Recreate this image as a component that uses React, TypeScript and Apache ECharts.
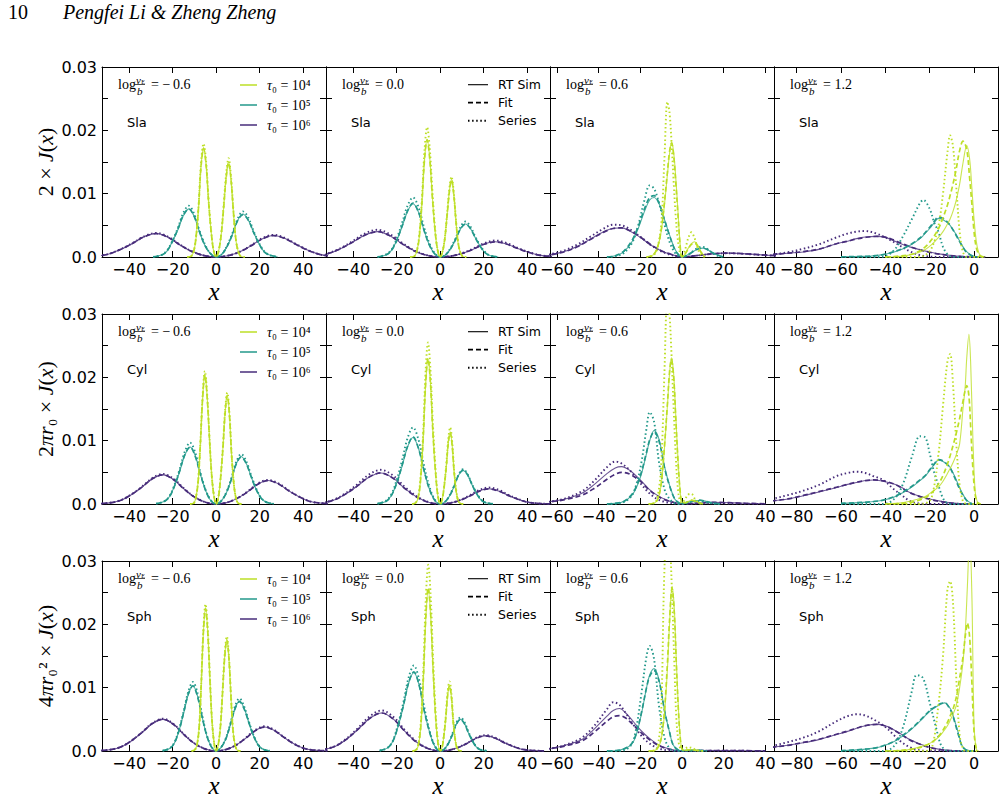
import React, { useEffect, useRef } from 'react';
import * as echarts from 'echarts';

// All J(x) values below are in units of 1e-4.
const Y_UNIT = 1e-4;

// ---------- Slab ----------
const SLA_M06_T4_X = [-13.3, -11.6, -10.4, -9.3, -8.1, -7, -5.8, -4.6, -3.5, -2.3, -1.2, 0, 1.1, 2.3, 3.4, 4.6, 5.7, 6.8, 8, 9.1, 10.3, 11.4, 13.1];
const SLA_M06_T4_SIM = [0, 1, 8, 29, 78, 142, 173, 145, 88, 40, 10, 0, 9, 35, 77, 126, 150, 123, 68, 26, 7, 1, 0];
const SLA_M06_T4_FIT = [0, 1, 8, 30, 79, 141, 171, 144, 88, 40, 10, 0, 9, 35, 76, 125, 149, 123, 68, 26, 7, 1, 0];
const SLA_M06_T4_SER = [0, 1, 8, 30, 81, 147, 179, 150, 91, 41, 11, 0, 9, 36, 80, 131, 156, 128, 70, 27, 7, 1, 0];
const SLA_M06_T5_X = [-29, -25.2, -22.7, -20.2, -17.6, -15.1, -12.6, -10.1, -7.6, -5, -2.5, 0, 2.5, 4.9, 7.4, 9.8, 12.3, 14.8, 17.2, 19.7, 22.1, 24.6, 28.3];
const SLA_M06_T5_SIM = [0, 3, 9, 24, 43, 65, 76, 64, 39, 17, 5, 0, 4, 16, 35, 57, 68, 58, 39, 21, 8, 3, 0];
const SLA_M06_T5_FIT = [0, 3, 9, 24, 44, 66, 76, 64, 39, 17, 5, 0, 4, 16, 35, 57, 67, 58, 39, 21, 8, 3, 0];
const SLA_M06_T5_SER = [0, 3, 10, 25, 46, 70, 81, 68, 41, 19, 5, 0, 4, 17, 37, 60, 72, 62, 41, 22, 9, 3, 0];
const SLA_M06_T6_X = [-63.5, -55.2, -49.7, -44.2, -38.6, -33.1, -27.6, -22.1, -16.6, -11, -5.5, 0, 5.3, 10.6, 15.8, 21.1, 26.4, 31.7, 37, 42.2, 47.5, 52.8, 60.7];
const SLA_M06_T6_SIM = [0, 1.5, 4.4, 11.5, 21, 32, 37, 31, 19, 8.5, 2.2, 0, 2, 7.8, 17.3, 28.6, 34, 29.2, 19.4, 10.5, 4.1, 1.4, 0];
const SLA_M06_T6_FIT = [0, 1.5, 4.5, 11.6, 21.2, 32, 36.8, 31, 19, 8.5, 2.2, 0, 2, 7.8, 17.2, 28.4, 33.8, 29, 19.3, 10.5, 4.1, 1.4, 0];
const SLA_M06_T6_SER = [0, 1.5, 4.6, 11.8, 21.7, 32.7, 38, 32, 19.4, 8.7, 2.3, 0, 2.1, 8, 17.9, 29.4, 35, 30, 20, 10.9, 4.2, 1.4, 0];

const SLA_P00_T4_X = [-13.8, -12, -10.8, -9.6, -8.4, -7.2, -6, -4.8, -3.6, -2.4, -1.2, 0, 1, 2.1, 3.1, 4.2, 5.2, 6.2, 7.3, 8.3, 9.4, 10.4, 12];
const SLA_P00_T4_SIM = [0, 1, 8, 32, 84, 153, 186, 156, 95, 43, 11, 0, 7, 28, 63, 103, 123, 101, 55, 21, 6, 1, 0];
const SLA_P00_T4_FIT = [0, 1, 8, 32, 85, 154, 185, 155, 95, 43, 11, 0, 7, 28, 62, 102, 122, 100, 55, 21, 6, 1, 0];
const SLA_P00_T4_SER = [0, 1, 9, 35, 92, 168, 205, 172, 105, 47, 12, 0, 8, 29, 65, 107, 127, 104, 57, 22, 6, 1, 0];
const SLA_P00_T5_X = [-28.8, -25, -22.5, -20, -17.5, -15, -12.5, -10, -7.5, -5, -2.5, 0, 2.3, 4.6, 7, 9.3, 11.6, 13.9, 16.2, 18.6, 20.9, 23.2, 26.7];
const SLA_P00_T5_SIM = [0, 3, 10, 26, 48, 72, 84, 71, 43, 19, 5, 0, 3, 12, 27, 44, 52, 45, 30, 16, 6, 2, 0];
const SLA_P00_T5_FIT = [0, 3, 10, 26, 49, 73, 85, 71, 43, 19, 5, 0, 3, 12, 27, 44, 52, 45, 30, 16, 6, 2, 0];
const SLA_P00_T5_SER = [0, 4, 11, 29, 54, 81, 94, 79, 48, 22, 6, 0, 3, 13, 29, 47, 56, 48, 32, 17, 7, 2, 0];
const SLA_P00_T6_X = [-66.5, -57.8, -52, -46.2, -40.5, -34.7, -28.9, -23.1, -17.3, -11.6, -5.8, 0, 5.1, 10.1, 15.2, 20.2, 25.3, 30.4, 35.4, 40.5, 45.5, 50.6, 58.2];
const SLA_P00_T6_SIM = [0, 1.6, 4.8, 12.4, 22.8, 34.4, 40, 33.6, 20.4, 9.2, 2.4, 0, 1.4, 5.5, 12.2, 20.2, 24, 20.6, 13.7, 7.4, 2.9, 1, 0];
const SLA_P00_T6_FIT = [0, 1.6, 4.9, 12.5, 23, 34.5, 40, 33.5, 20.3, 9.2, 2.4, 0, 1.4, 5.5, 12.2, 20.1, 23.8, 20.5, 13.7, 7.4, 2.9, 1, 0];
const SLA_P00_T6_SER = [0, 1.7, 5.2, 13.3, 24.5, 37, 43, 36.1, 21.9, 9.9, 2.6, 0, 1.6, 6, 13.3, 21.8, 26, 22.4, 14.8, 8.1, 3.1, 1, 0];

const SLA_P06_T4_X = [-17, -14, -12, -10, -8.5, -7, -6, -5, -4, -3, -2, -1, 0, 1.5, 3, 4.5, 6, 7.5, 9, 11];
const SLA_P06_T4_SIM = [0, 3, 12, 40, 80, 130, 163, 182, 165, 125, 75, 25, 0, 5, 14, 21, 24, 19, 9, 0];
const SLA_P06_T4_FIT = [0, 3, 13, 42, 84, 134, 166, 180, 160, 118, 70, 22, 0, 5, 13, 20, 22, 17, 8, 0];
const SLA_P06_T4_SER = [0, 2, 12, 50, 150, 245, 228, 180, 118, 63, 27, 7, 0, 12, 30, 39, 30, 14, 3, 0];
const SLA_P06_T5_X = [-36, -32, -28, -24, -21, -18, -15.5, -13.4, -11, -8.5, -6, -3.5, -1.5, 0, 3, 6, 8, 10, 12, 14, 17, 20];
const SLA_P06_T5_SIM = [0, 2, 8, 24, 45, 72, 90, 94, 84, 60, 35, 13, 3, 0, 4, 10, 13, 14, 12, 8, 3, 0];
const SLA_P06_T5_FIT = [0, 2, 9, 26, 48, 76, 94, 97, 85, 60, 34, 12, 3, 0, 4, 10, 13, 14, 12, 8, 3, 0];
const SLA_P06_T5_SER = [0, 1, 6, 22, 50, 90, 113, 108, 85, 52, 24, 7, 1, 0, 4, 11, 15, 16, 13, 8, 2, 0];
const SLA_P06_T6_X = [-70, -63, -56, -50, -44, -38, -33, -29, -25, -20, -15, -10, -5, 0, 5, 10, 15, 21, 27, 33, 40, 46];
const SLA_P06_T6_SIM = [1.5, 3.7, 9, 17, 28, 39, 45.5, 46, 41, 31, 19, 10, 4, 0, 1.5, 3.5, 5.3, 6.3, 5.8, 4.5, 3, 2];
const SLA_P06_T6_FIT = [1.4, 3.5, 8.6, 16.5, 27.5, 38.5, 45, 46, 41.5, 31.5, 19.5, 10, 4, 0, 1.5, 3.4, 5.1, 6, 5.6, 4.4, 3, 2];
const SLA_P06_T6_SER = [2, 4.5, 11, 20, 32, 44, 51, 50, 44, 32, 19, 9, 3, 0, 1.5, 3.5, 5, 6, 5.5, 4.3, 2.8, 1.8];

const SLA_P12_T4_X = [-40, -35, -30, -26, -22, -19, -16, -14, -12, -10.8, -9.5, -8, -6.5, -5, -3.3, -2, -1, 0, 1, 2, 3, 5];
const SLA_P12_T4_SIM = [0, 0.5, 2.5, 6, 12, 20, 31, 40, 52, 60, 72, 90, 115, 148, 176, 155, 110, 60, 25, 8, 2, 0];
const SLA_P12_T4_FIT = [0, 1, 3, 7, 16, 28, 45, 62, 82, 97, 115, 140, 168, 183, 170, 125, 85, 40, 15, 5, 1, 0];
const SLA_P12_T4_SER = [0, 0, 0, 0, 3, 15, 50, 100, 165, 192, 175, 110, 40, 8, 0, 0, 0, 0, 0, 0, 0, 0];
const SLA_P12_T5_X = [-60, -50, -45, -41, -36, -32, -28, -24.4, -22.9, -20, -18, -16.1, -14, -12, -10.8, -8.5, -6.3, -4, -1.8, 0, 2];
const SLA_P12_T5_SIM = [0.3, 1, 2, 3.7, 8, 13, 20, 29, 34, 45, 54, 61, 59, 54, 50, 38, 24, 11, 4, 1, 0];
const SLA_P12_T5_FIT = [0.3, 1, 2, 3.8, 8.5, 13.5, 21, 30, 35, 47, 56, 63, 61, 55, 50, 37, 23, 10, 3.5, 1, 0];
const SLA_P12_T5_SER = [0, 0, 0, 0.5, 11, 33, 60, 85, 90, 76, 55, 40, 16, 4, 1, 0, 0, 0, 0, 0, 0];
const SLA_P12_T6_X = [-95, -91, -84, -77, -70, -62, -57, -53, -49, -44, -40, -36.4, -33, -29, -25, -20, -15, -10.8, -6, 0, 5];
const SLA_P12_T6_SIM = [3, 4, 6, 8, 12, 21, 25, 29, 31.5, 32.5, 31, 26, 21, 16, 12, 8, 4.5, 2.6, 1, 0.3, 0];
const SLA_P12_T6_FIT = [3, 4, 6, 8.5, 12.5, 21, 25, 28.5, 31, 32.5, 31.5, 27, 22, 16.5, 12, 7.5, 4.2, 2.3, 0.9, 0.2, 0];
const SLA_P12_T6_SER = [3, 4, 7.5, 13, 20, 31, 37, 40, 41, 37, 31, 24, 17, 9, 3.5, 0.8, 0, 0, 0, 0, 0];

// ---------- Cylinder ----------
const CYL_M06_T4_X = [-12, -10.4, -9.4, -8.3, -7.3, -6.2, -5.2, -4.2, -3.1, -2.1, -1, 0, 1, 2, 3.1, 4.1, 5.1, 6.1, 7.1, 8.2, 9.2, 10.2, 11.7];
const CYL_M06_T4_SIM = [0, 1, 9, 35, 92, 168, 205, 172, 105, 47, 12, 0, 10, 40, 88, 144, 172, 141, 77, 29, 8, 1, 0];
const CYL_M06_T4_FIT = [0, 1, 9, 35, 93, 169, 204, 171, 104, 47, 12, 0, 10, 40, 88, 143, 171, 140, 77, 29, 8, 1, 0];
const CYL_M06_T4_SER = [0, 1, 9, 36, 95, 172, 210, 176, 107, 48, 13, 0, 11, 40, 90, 148, 176, 144, 79, 30, 8, 1, 0];
const CYL_M06_T5_X = [-27.6, -24, -21.6, -19.2, -16.8, -14.4, -12, -9.6, -7.2, -4.8, -2.4, 0, 2.3, 4.6, 6.9, 9.2, 11.5, 13.8, 16.1, 18.4, 20.7, 23, 26.5];
const CYL_M06_T5_SIM = [0.5, 4, 11, 28, 51, 77, 90, 76, 46, 21, 5, 0, 4.5, 17, 38, 63, 75, 64.5, 43, 23, 9, 3, 0.4];
const CYL_M06_T5_FIT = [0.5, 4, 11, 28, 52, 78, 90, 75, 46, 21, 5, 0, 4.5, 17, 38, 63, 74, 64, 43, 23, 9, 3, 0.4];
const CYL_M06_T5_SER = [0.5, 4, 12, 30, 55, 83, 97, 81, 49, 22, 6, 0, 5, 18, 40, 66, 79, 68, 45, 24.5, 9.5, 3, 0.4];
const CYL_M06_T6_X = [-56.4, -49, -44.1, -39.2, -34.3, -29.4, -24.5, -19.6, -14.7, -9.8, -4.9, 0, 4.8, 9.5, 14.3, 19, 23.8, 28.6, 33.3, 38.1, 42.8, 47.6, 54.7];
const CYL_M06_T6_SIM = [0.2, 1.8, 5.5, 14.3, 26, 39.6, 46, 38.6, 23.5, 10.6, 2.8, 0, 2.2, 8.5, 18.9, 31, 37, 31.8, 21, 11.5, 4.4, 1.5, 0.2];
const CYL_M06_T6_FIT = [0.2, 1.8, 5.6, 14.5, 26.3, 39.8, 46, 38.4, 23.4, 10.6, 2.8, 0, 2.2, 8.5, 18.8, 30.8, 36.8, 31.7, 21, 11.5, 4.4, 1.5, 0.2];
const CYL_M06_T6_SER = [0.2, 1.9, 5.7, 14.7, 27, 40.8, 47.5, 39.9, 24.2, 10.9, 2.9, 0, 2.3, 8.7, 19.4, 31.9, 38, 32.7, 21.7, 11.8, 4.6, 1.5, 0.2];

const CYL_P00_T4_X = [-12.9, -11.2, -10.1, -9, -7.8, -6.7, -5.6, -4.5, -3.4, -2.2, -1.1, 0, 0.9, 1.8, 2.8, 3.7, 4.6, 5.5, 6.4, 7.4, 8.3, 9.2, 10.6];
const CYL_P00_T4_SIM = [0, 2, 10, 39, 103, 187, 228, 192, 116, 52, 14, 0, 7, 26, 58, 95, 113, 93, 51, 19, 5, 1, 0];
const CYL_P00_T4_FIT = [0, 2, 10, 39, 104, 189, 230, 193, 117, 53, 14, 0, 7, 26, 58, 95, 113, 93, 51, 19, 5, 1, 0];
const CYL_P00_T4_SER = [0, 2, 11, 43, 115, 209, 255, 214, 130, 59, 15, 0, 7, 28, 62, 102, 121, 99, 54, 21, 5, 1, 0];
const CYL_P00_T5_X = [-28.8, -25, -22.5, -20, -17.5, -15, -12.5, -10, -7.5, -5, -2.5, 0, 2.1, 4.2, 6.3, 8.4, 10.5, 12.6, 14.7, 16.8, 18.9, 21, 24.2];
const CYL_P00_T5_SIM = [0.5, 4, 13, 33, 60, 90, 105, 88, 54, 24, 6, 0, 3, 12, 27, 45, 53, 46, 30, 16, 6, 2, 0.3];
const CYL_P00_T5_FIT = [0.5, 4, 13, 33, 61, 91, 106, 88, 54, 24, 6, 0, 3, 12, 27, 45, 53, 46, 30, 16, 6, 2, 0.3];
const CYL_P00_T5_SER = [0.6, 5, 15, 38, 69, 104, 121, 102, 62, 28, 7, 0, 3, 13, 28, 46, 55, 47, 31, 17, 7, 2, 0.3];
const CYL_P00_T6_X = [-62.8, -54.6, -49.1, -43.7, -38.2, -32.8, -27.3, -21.8, -16.4, -10.9, -5.5, 0, 4.5, 8.9, 13.4, 17.8, 22.3, 26.8, 31.2, 35.7, 40.1, 44.6, 51.3];
const CYL_P00_T6_SIM = [0.2, 2, 5.9, 15.2, 27.9, 42.1, 49, 41.2, 25, 11.3, 2.9, 0, 1.4, 5.5, 12.2, 20.2, 24, 20.6, 13.7, 7.4, 2.9, 1, 0.1];
const CYL_P00_T6_FIT = [0.2, 2, 6, 15.4, 28.2, 42.3, 49, 41, 24.9, 11.2, 2.9, 0, 1.4, 5.5, 12.1, 20, 23.8, 20.5, 13.6, 7.4, 2.9, 1, 0.1];
const CYL_P00_T6_SER = [0.3, 2.2, 6.5, 16.7, 30.8, 46.4, 54, 45.4, 27.5, 12.4, 3.2, 0, 1.6, 6, 13.3, 21.8, 26, 22.4, 14.8, 8.1, 3.1, 1, 0.1];

const CYL_P06_T4_X = [-16, -13, -11.5, -10, -8.5, -7, -6, -5.1, -4, -3, -2, -1, 0, 1.5, 3, 4.5, 6, 8, 10];
const CYL_P06_T4_SIM = [0, 2, 8, 30, 85, 155, 205, 231, 205, 140, 75, 25, 3, 2, 4, 6, 5, 2, 0];
const CYL_P06_T4_FIT = [0, 2, 9, 32, 88, 158, 208, 228, 200, 135, 72, 24, 3, 2, 4, 6, 5, 2, 0];
const CYL_P06_T4_SER = [0, 2, 15, 60, 200, 330, 300, 240, 150, 75, 25, 5, 2, 8, 15, 16, 9, 2, 0];
const CYL_P06_T5_X = [-36, -32, -28, -24.3, -22, -19.5, -17, -15.5, -13.4, -11, -8.3, -6, -3.5, -1.5, 0, 3, 6, 8.5, 11, 14, 18];
const CYL_P06_T5_SIM = [0, 1, 4, 13, 25, 47, 80, 100, 116, 102, 58, 30, 8, 2, 1, 3, 5, 6, 4.5, 2, 0];
const CYL_P06_T5_FIT = [0, 1, 4, 14, 27, 50, 82, 101, 114, 99, 56, 29, 8, 2, 1, 3, 5, 6, 4.5, 2, 0];
const CYL_P06_T5_SER = [0, 0.5, 3, 12, 30, 65, 120, 145, 130, 65, 22, 8, 1, 0, 0, 2, 4, 5, 3, 1, 0];
const CYL_P06_T6_X = [-70, -63, -56, -48, -42, -36, -32, -29, -25, -20, -16, -12, -8, -4, 0, 5, 10, 15, 20, 25, 30, 40];
const CYL_P06_T6_SIM = [1.5, 4, 8, 17, 31, 48, 57, 59, 53, 38, 24, 14, 7, 2.5, 0.5, 1, 2, 2.5, 2.3, 1.8, 1.2, 0.3];
const CYL_P06_T6_FIT = [1.5, 3.5, 7, 14, 25, 39, 47, 50, 47, 36, 23, 13, 6.5, 2.5, 0.5, 1, 2, 2.5, 2.3, 1.8, 1.2, 0.3];
const CYL_P06_T6_SER = [1.5, 4, 9, 20, 37, 58, 67, 64, 53, 33, 18, 8, 3, 1, 0, 0.5, 1, 1.2, 1, 0.7, 0.4, 0.1];

const CYL_P12_T4_X = [-40, -35, -30, -26, -22, -19, -16, -14, -12, -10.8, -9.5, -8, -6.5, -5, -4, -3.3, -2.3, -1.5, -0.5, 0.5, 1.5, 3];
const CYL_P12_T4_SIM = [0, 1, 3.5, 7, 12, 19, 27, 36, 48, 56, 65, 78, 95, 150, 185, 230, 268, 220, 100, 20, 3, 0];
const CYL_P12_T4_FIT = [0, 0.5, 2, 4.5, 10, 18, 32, 45, 63, 76, 92, 112, 135, 162, 180, 187, 170, 120, 55, 15, 3, 0];
const CYL_P12_T4_SER = [0, 0, 0, 0, 1, 12, 80, 155, 225, 237, 190, 95, 30, 4, 1, 0, 0, 0, 0, 0, 0, 0];
const CYL_P12_T5_X = [-60, -50, -45, -41, -36, -32, -28, -24.4, -22, -20, -18, -16.1, -14, -12, -10.8, -8.5, -6.3, -4.5, -3.3, -1.5, 0];
const CYL_P12_T5_SIM = [1, 2.6, 4, 6, 11, 18, 27, 37, 44, 53, 62, 69, 67, 62, 58, 42, 24, 12, 6, 1.5, 0];
const CYL_P12_T5_FIT = [1, 2.6, 4, 6.2, 11.5, 19, 28, 38, 45, 54, 63, 70, 68, 62, 57, 40, 22, 11, 5.5, 1.2, 0];
const CYL_P12_T5_SER = [0, 0, 0, 0, 8, 32, 75, 107, 105, 80, 50, 30, 9, 1, 0, 0, 0, 0, 0, 0, 0];
const CYL_P12_T6_X = [-95, -91, -84, -77, -70, -62, -57, -53, -49, -45.4, -41, -36.4, -33, -29, -25, -20, -16, -12.3, -8, -4, 0];
const CYL_P12_T6_SIM = [4, 5, 8, 13, 19, 26, 31, 34, 37, 38, 36, 32, 27, 18, 13, 8, 5, 2.6, 1, 0.3, 0];
const CYL_P12_T6_FIT = [4, 5, 8, 13.5, 19.5, 26.5, 31, 34.5, 37, 38, 36.5, 32, 26, 18, 12.5, 7.5, 4.5, 2.3, 0.8, 0.2, 0];
const CYL_P12_T6_SER = [5, 8, 14, 21, 30, 44, 49, 51, 49, 44, 38, 24, 15, 5, 1, 0, 0, 0, 0, 0, 0];

// ---------- Sphere ----------
const SPH_M06_T4_X = [-11.3, -9.8, -8.8, -7.8, -6.9, -5.9, -4.9, -3.9, -2.9, -2, -1, 0, 1, 2, 2.9, 3.9, 4.9, 5.9, 6.9, 7.8, 8.8, 9.8, 11.3];
const SPH_M06_T4_SIM = [0, 2, 10, 38, 102, 185, 226, 190, 115, 52, 14, 0, 11, 40, 90, 148, 176, 144, 79, 30, 8, 1, 0];
const SPH_M06_T4_FIT = [0, 2, 10, 38, 103, 186, 225, 189, 115, 52, 14, 0, 11, 40, 90, 147, 175, 144, 79, 30, 8, 1, 0];
const SPH_M06_T4_SER = [0, 2, 10, 39, 104, 190, 232, 195, 118, 53, 14, 0, 11, 42, 92, 152, 181, 148, 81, 31, 8, 1, 0];
const SPH_M06_T5_X = [-24.6, -21.4, -19.3, -17.1, -15, -12.8, -10.7, -8.6, -6.4, -4.3, -2.1, 0, 2.1, 4.3, 6.4, 8.6, 10.7, 12.8, 15, 17.1, 19.3, 21.4, 24.6];
const SPH_M06_T5_SIM = [0.5, 4, 12, 32, 59, 89, 103, 87, 53, 24, 6, 0, 5, 18, 40, 66, 79, 68, 45, 24.5, 9.5, 3, 0.4];
const SPH_M06_T5_FIT = [0.5, 4, 12, 32, 60, 90, 103, 86, 53, 24, 6, 0, 5, 18, 40, 66, 78, 67, 45, 24.5, 9.5, 3, 0.4];
const SPH_M06_T5_SER = [0.5, 4, 13, 34, 62, 94, 109, 92, 56, 25, 7, 0, 5, 19, 42, 70, 83, 71, 47, 26, 10, 3, 0.4];
const SPH_M06_T6_X = [-56.4, -49, -44.1, -39.2, -34.3, -29.4, -24.5, -19.6, -14.7, -9.8, -4.9, 0, 4.4, 8.9, 13.3, 17.8, 22.2, 26.6, 31.1, 35.5, 40, 44.4, 51.1];
const SPH_M06_T6_SIM = [0.3, 2, 6, 15.5, 28.5, 43, 50, 42, 25.5, 11.5, 3, 0, 2.3, 8.7, 19.4, 31.9, 38, 32.7, 21.7, 11.8, 4.6, 1.5, 0.2];
const SPH_M06_T6_FIT = [0.3, 2, 6.1, 15.7, 28.8, 43.2, 50, 41.8, 25.4, 11.5, 3, 0, 2.3, 8.7, 19.3, 31.7, 37.8, 32.6, 21.7, 11.8, 4.6, 1.5, 0.2];
const SPH_M06_T6_SER = [0.3, 2, 6.1, 15.8, 29, 43.9, 51, 42.8, 26, 11.7, 3.1, 0, 2.3, 8.9, 19.9, 32.8, 39, 33.5, 22.2, 12.1, 4.7, 1.6, 0.2];

const SPH_P00_T4_X = [-12.7, -11, -9.9, -8.8, -7.7, -6.6, -5.5, -4.4, -3.3, -2.2, -1.1, 0, 0.9, 1.7, 2.6, 3.4, 4.3, 5.2, 6, 6.9, 7.7, 8.6, 9.9];
const SPH_P00_T4_SIM = [0, 2, 11, 43, 115, 209, 255, 214, 130, 59, 15, 0, 6, 24, 53, 87, 103, 84, 46, 18, 5, 1, 0];
const SPH_P00_T4_FIT = [0, 2, 12, 44, 116, 212, 258, 217, 132, 59, 15, 0, 6, 24, 53, 87, 103, 84, 46, 18, 5, 1, 0];
const SPH_P00_T4_SER = [0, 2, 13, 50, 132, 241, 294, 247, 150, 68, 18, 0, 7, 25, 56, 92, 110, 90, 50, 19, 5, 1, 0];
const SPH_P00_T5_X = [-27.8, -24.2, -21.8, -19.4, -16.9, -14.5, -12.1, -9.7, -7.3, -4.8, -2.4, 0, 1.9, 3.7, 5.6, 7.4, 9.3, 11.2, 13, 14.9, 16.7, 18.6, 21.4];
const SPH_P00_T5_SIM = [0.6, 5, 15, 38, 71, 107, 124, 104, 63, 29, 7, 0, 3, 11.5, 25.5, 42, 50, 43, 28.5, 15.5, 6, 2, 0.3];
const SPH_P00_T5_FIT = [0.6, 5, 15, 39, 72, 108, 125, 104, 63, 29, 7, 0, 3, 11.5, 25.5, 42, 50, 43, 28.5, 15.5, 6, 2, 0.3];
const SPH_P00_T5_SER = [0.7, 5, 16, 42, 77, 116, 135, 113, 69, 31, 8, 0, 3, 12, 27, 44.5, 53, 45.6, 30.2, 16.4, 6.4, 2.1, 0.3];
const SPH_P00_T6_X = [-61.9, -53.8, -48.4, -43, -37.7, -32.3, -26.9, -21.5, -16.1, -10.8, -5.4, 0, 4.2, 8.3, 12.5, 16.6, 20.8, 25, 29.1, 33.3, 37.4, 41.6, 47.8];
const SPH_P00_T6_SIM = [0.3, 2.4, 7.2, 18.6, 34.2, 51.6, 60, 50.4, 30.6, 13.8, 3.6, 0, 1.4, 5.5, 12.2, 20.2, 24, 20.6, 13.7, 7.4, 2.9, 1, 0.1];
const SPH_P00_T6_FIT = [0.3, 2.4, 7.3, 18.8, 34.5, 51.8, 60, 50.2, 30.5, 13.7, 3.6, 0, 1.4, 5.5, 12.2, 20.1, 23.8, 20.5, 13.6, 7.4, 2.9, 1, 0.1];
const SPH_P00_T6_SER = [0.3, 2.6, 7.7, 19.8, 36.5, 55, 64, 53.8, 32.6, 14.7, 3.8, 0, 1.5, 5.8, 12.8, 21, 25, 21.5, 14.3, 7.8, 3, 1, 0.1];

const SPH_P06_T4_X = [-16, -13, -11.5, -10, -8.5, -7, -6, -4.8, -3.7, -2.7, -1.7, -0.8, 0, 1.5, 3, 4.5, 6, 8, 10];
const SPH_P06_T4_SIM = [0, 1, 5, 18, 55, 130, 200, 260, 225, 140, 65, 20, 3, 1, 2, 2, 1.5, 0.5, 0];
const SPH_P06_T4_FIT = [0, 1, 6, 20, 60, 138, 205, 257, 218, 135, 62, 19, 3, 1, 2, 2, 1.5, 0.5, 0];
const SPH_P06_T4_SER = [0, 1, 10, 60, 280, 360, 340, 250, 140, 50, 15, 4, 2, 4, 6, 5, 3, 1, 0];
const SPH_P06_T5_X = [-36, -32, -28, -24.3, -22, -19.5, -17, -15.5, -13.4, -11, -8.3, -6, -4.3, -2, 0, 4, 8, 12];
const SPH_P06_T5_SIM = [0, 0.5, 3, 10, 25, 58, 100, 120, 130, 112, 63, 30, 10, 2, 0.5, 1, 1, 0];
const SPH_P06_T5_FIT = [0, 0.5, 3, 11, 27, 60, 100, 118, 127, 110, 62, 30, 10, 2, 0.5, 1, 1, 0];
const SPH_P06_T5_SER = [0, 0, 1, 10, 35, 90, 150, 166, 145, 70, 20, 4, 1, 0, 0, 0.5, 0.5, 0];
const SPH_P06_T6_X = [-70, -63, -56, -48, -42, -36, -33, -30, -27, -23, -19, -16, -12, -8, -4, 0, 5, 10, 20, 30, 40];
const SPH_P06_T6_SIM = [1.5, 4, 9, 18, 35, 55, 64, 67, 60, 45, 30, 21, 11, 5, 1.5, 0.3, 0.5, 0.8, 0.8, 0.5, 0.2];
const SPH_P06_T6_FIT = [1.5, 3.8, 8, 16, 30, 47, 54, 56, 52, 40, 27, 19, 10, 4.5, 1.5, 0.3, 0.5, 0.8, 0.8, 0.5, 0.2];
const SPH_P06_T6_SER = [1.5, 4, 9.5, 21, 40, 66, 77, 73, 60, 40, 22, 13, 5, 1.5, 0.3, 0, 0.3, 0.5, 0.5, 0.3, 0.1];

const SPH_P12_T4_X = [-40, -35, -30, -26, -22, -19, -16, -14, -12, -10.8, -9.5, -8, -6.5, -5, -4, -3, -2, -1, 0, 1, 2];
const SPH_P12_T4_SIM = [0, 0.5, 2, 5, 9, 14, 22, 30, 40, 48, 58, 72, 100, 140, 185, 260, 340, 250, 40, 3, 0];
const SPH_P12_T4_FIT = [0, 0.5, 2, 4, 8.5, 14, 23, 33, 45, 55, 66, 85, 115, 148, 180, 202, 180, 110, 30, 4, 0];
const SPH_P12_T4_SER = [0, 0, 0, 0, 0, 5, 75, 150, 255, 268, 235, 115, 25, 4, 0, 0, 0, 0, 0, 0, 0];
const SPH_P12_T5_X = [-60, -50, -45, -41, -36, -32, -28, -25.9, -23, -19.9, -17, -15, -13.1, -11.5, -10.1, -8.5, -7, -5.6, -4, -2, 0];
const SPH_P12_T5_SIM = [0.5, 2.6, 4.5, 8, 15, 24, 35, 42, 52, 63, 70, 74, 76, 71, 63, 45, 27, 10, 3, 0.5, 0];
const SPH_P12_T5_FIT = [0.5, 2.6, 4.6, 8.2, 15.5, 25, 36, 43, 53, 64, 71, 75, 76, 70, 61, 43, 25, 9, 2.5, 0.4, 0];
const SPH_P12_T5_SER = [0, 0, 0, 0, 8, 38, 95, 120, 115, 75, 35, 10, 2, 0, 0, 0, 0, 0, 0, 0, 0];
const SPH_P12_T6_X = [-95, -91, -84, -77, -70, -62, -57, -53, -49, -43.9, -40, -36.4, -33, -29, -25, -20, -16, -12, -8, -4, 0];
const SPH_P12_T6_SIM = [5, 6, 9, 13, 18, 26, 31, 36, 40, 42, 40, 34, 27, 18, 12, 6, 3, 1.2, 0.4, 0, 0];
const SPH_P12_T6_FIT = [5, 6, 9, 13.5, 18.5, 26.5, 31.5, 36, 40, 42, 39.5, 33.5, 26.5, 17.5, 11.5, 5.5, 2.8, 1, 0.3, 0, 0];
const SPH_P12_T6_SER = [6, 8, 14, 21, 31, 47, 55, 58, 56, 47, 38, 26, 15, 6, 1.5, 0, 0, 0, 0, 0, 0];

// ---------- labels / axes ----------
const GEOMETRY_LABELS = ['Sla', 'Cyl', 'Sph'];
const LOG_VE_VALUES = ['\u2212\u20090.6', '0.0', '0.6', '1.2'];
const TAU_LABELS = ['10\u2074', '10\u2075', '10\u2076'];
const TAU_COLORS = ['#bddf26', '#23998b', '#472c7b'];
const STYLE_LABELS = ['RT Sim', 'Fit', 'Series'];
const X_RANGES = [[-52.5, 50.5], [-52.5, 50.5], [-63.3, 44.1], [-90.2, 10.8]];
const X_TICKS = [[-40, -20, 0, 20, 40], [-40, -20, 0, 20, 40], [-60, -40, -20, 0, 20, 40], [-80, -60, -40, -20, 0]];
const Y_MAX = 0.03;
const Y_TICK_STEP = 0.005;

type Group = number[][];
const PANEL_DATA: Group[][][] = [
  [
    [[SLA_M06_T4_X, SLA_M06_T4_SIM, SLA_M06_T4_FIT, SLA_M06_T4_SER], [SLA_M06_T5_X, SLA_M06_T5_SIM, SLA_M06_T5_FIT, SLA_M06_T5_SER], [SLA_M06_T6_X, SLA_M06_T6_SIM, SLA_M06_T6_FIT, SLA_M06_T6_SER]],
    [[SLA_P00_T4_X, SLA_P00_T4_SIM, SLA_P00_T4_FIT, SLA_P00_T4_SER], [SLA_P00_T5_X, SLA_P00_T5_SIM, SLA_P00_T5_FIT, SLA_P00_T5_SER], [SLA_P00_T6_X, SLA_P00_T6_SIM, SLA_P00_T6_FIT, SLA_P00_T6_SER]],
    [[SLA_P06_T4_X, SLA_P06_T4_SIM, SLA_P06_T4_FIT, SLA_P06_T4_SER], [SLA_P06_T5_X, SLA_P06_T5_SIM, SLA_P06_T5_FIT, SLA_P06_T5_SER], [SLA_P06_T6_X, SLA_P06_T6_SIM, SLA_P06_T6_FIT, SLA_P06_T6_SER]],
    [[SLA_P12_T4_X, SLA_P12_T4_SIM, SLA_P12_T4_FIT, SLA_P12_T4_SER], [SLA_P12_T5_X, SLA_P12_T5_SIM, SLA_P12_T5_FIT, SLA_P12_T5_SER], [SLA_P12_T6_X, SLA_P12_T6_SIM, SLA_P12_T6_FIT, SLA_P12_T6_SER]],
  ],
  [
    [[CYL_M06_T4_X, CYL_M06_T4_SIM, CYL_M06_T4_FIT, CYL_M06_T4_SER], [CYL_M06_T5_X, CYL_M06_T5_SIM, CYL_M06_T5_FIT, CYL_M06_T5_SER], [CYL_M06_T6_X, CYL_M06_T6_SIM, CYL_M06_T6_FIT, CYL_M06_T6_SER]],
    [[CYL_P00_T4_X, CYL_P00_T4_SIM, CYL_P00_T4_FIT, CYL_P00_T4_SER], [CYL_P00_T5_X, CYL_P00_T5_SIM, CYL_P00_T5_FIT, CYL_P00_T5_SER], [CYL_P00_T6_X, CYL_P00_T6_SIM, CYL_P00_T6_FIT, CYL_P00_T6_SER]],
    [[CYL_P06_T4_X, CYL_P06_T4_SIM, CYL_P06_T4_FIT, CYL_P06_T4_SER], [CYL_P06_T5_X, CYL_P06_T5_SIM, CYL_P06_T5_FIT, CYL_P06_T5_SER], [CYL_P06_T6_X, CYL_P06_T6_SIM, CYL_P06_T6_FIT, CYL_P06_T6_SER]],
    [[CYL_P12_T4_X, CYL_P12_T4_SIM, CYL_P12_T4_FIT, CYL_P12_T4_SER], [CYL_P12_T5_X, CYL_P12_T5_SIM, CYL_P12_T5_FIT, CYL_P12_T5_SER], [CYL_P12_T6_X, CYL_P12_T6_SIM, CYL_P12_T6_FIT, CYL_P12_T6_SER]],
  ],
  [
    [[SPH_M06_T4_X, SPH_M06_T4_SIM, SPH_M06_T4_FIT, SPH_M06_T4_SER], [SPH_M06_T5_X, SPH_M06_T5_SIM, SPH_M06_T5_FIT, SPH_M06_T5_SER], [SPH_M06_T6_X, SPH_M06_T6_SIM, SPH_M06_T6_FIT, SPH_M06_T6_SER]],
    [[SPH_P00_T4_X, SPH_P00_T4_SIM, SPH_P00_T4_FIT, SPH_P00_T4_SER], [SPH_P00_T5_X, SPH_P00_T5_SIM, SPH_P00_T5_FIT, SPH_P00_T5_SER], [SPH_P00_T6_X, SPH_P00_T6_SIM, SPH_P00_T6_FIT, SPH_P00_T6_SER]],
    [[SPH_P06_T4_X, SPH_P06_T4_SIM, SPH_P06_T4_FIT, SPH_P06_T4_SER], [SPH_P06_T5_X, SPH_P06_T5_SIM, SPH_P06_T5_FIT, SPH_P06_T5_SER], [SPH_P06_T6_X, SPH_P06_T6_SIM, SPH_P06_T6_FIT, SPH_P06_T6_SER]],
    [[SPH_P12_T4_X, SPH_P12_T4_SIM, SPH_P12_T4_FIT, SPH_P12_T4_SER], [SPH_P12_T5_X, SPH_P12_T5_SIM, SPH_P12_T5_FIT, SPH_P12_T5_SER], [SPH_P12_T6_X, SPH_P12_T6_SIM, SPH_P12_T6_FIT, SPH_P12_T6_SER]],
  ],
];

// ---------- layout ----------
const GRID_LEFT = 102;
const GRID_TOP = 67;
const GRID_W = 224;
const GRID_H = 190;
const ROW_STEP = 247;
const SERIF = '"Liberation Serif", "DejaVu Serif", serif';
const SANS = '"DejaVu Sans", sans-serif';

const LINE_STYLES = [
  { width: 1.1, type: 'solid' as any, opacity: 0.8 },
  { width: 1.7, type: [5, 3] as any, opacity: 1 },
  { width: 1.9, type: [1.5, 2.6] as any, opacity: 1 },
];

function fmtX(v: number) {
  return v < 0 ? '\u2212' + Math.abs(v) : String(v);
}
function fmtY(v: number) {
  const k = Math.round(v / Y_TICK_STEP);
  if (k % 2 !== 0) return '';
  return k === 0 ? '0.0' : (k * Y_TICK_STEP).toFixed(2);
}

function txt(x: number, y: number, text: string, opts: any = {}) {
  const { fontSize = 13, fontFamily = SANS, fontStyle = 'normal', align = 'left', vAlign = 'middle', rotation = 0, rich } = opts;
  return {
    type: 'text',
    x,
    y,
    rotation,
    silent: true,
    style: {
      text,
      fill: '#000',
      fontSize,
      fontFamily,
      fontStyle,
      align,
      verticalAlign: vAlign,
      textAlign: align,
      textVerticalAlign: vAlign,
      rich,
    },
  };
}

function seg(x1: number, y1: number, x2: number, y2: number, stroke: string, lineWidth: number, lineDash?: number[]) {
  return {
    type: 'line',
    silent: true,
    shape: { x1, y1, x2, y2 },
    style: { stroke, lineWidth, lineDash: lineDash || null },
  };
}

function buildOption() {
  const grid: any[] = [];
  const xAxis: any[] = [];
  const yAxis: any[] = [];
  const series: any[] = [];
  const graphic: any[] = [];

  const axisLine = { show: true, onZero: false, lineStyle: { color: '#000', width: 1 } };
  const tickStyle = { color: '#000', width: 1 };

  for (let r = 0; r < 3; r++) {
    for (let c = 0; c < 4; c++) {
      const i = r * 4 + c;
      const L = GRID_LEFT + GRID_W * c;
      const T = GRID_TOP + ROW_STEP * r;
      const [xmin, xmax] = X_RANGES[c];
      const ticks = X_TICKS[c];
      grid.push({ left: L, top: T, width: GRID_W, height: GRID_H });

      xAxis.push({
        type: 'value', gridIndex: i, position: 'bottom', min: xmin, max: xmax,
        axisLine,
        axisTick: { show: true, inside: true, length: 6, customValues: ticks, lineStyle: tickStyle },
        axisLabel: { show: true, customValues: ticks, formatter: fmtX, color: '#000', fontSize: 16, fontFamily: SANS, margin: 4 },
        splitLine: { show: false },
      });
      xAxis.push({
        type: 'value', gridIndex: i, position: 'top', min: xmin, max: xmax,
        axisLine,
        axisTick: { show: true, inside: true, length: 6, customValues: ticks, lineStyle: tickStyle },
        axisLabel: { show: false },
        splitLine: { show: false },
      });
      yAxis.push({
        type: 'value', gridIndex: i, position: 'left', min: 0, max: Y_MAX, interval: Y_TICK_STEP,
        axisLine,
        axisTick: { show: true, inside: true, length: 6, lineStyle: tickStyle },
        axisLabel: { show: c === 0, formatter: fmtY, color: '#000', fontSize: 16, fontFamily: SANS, margin: 5 },
        splitLine: { show: false },
      });
      yAxis.push({
        type: 'value', gridIndex: i, position: 'right', min: 0, max: Y_MAX, interval: Y_TICK_STEP,
        axisLine,
        axisTick: { show: true, inside: true, length: 6, lineStyle: tickStyle },
        axisLabel: { show: false },
        splitLine: { show: false },
      });

      const groups = PANEL_DATA[r][c];
      for (let t = 2; t >= 0; t--) {
        const [xs, ...ys] = groups[t];
        ys.forEach((yv, s) => {
          const ls = LINE_STYLES[s];
          series.push({
            type: 'line',
            xAxisIndex: 2 * i,
            yAxisIndex: 2 * i,
            data: xs.map((xv, k) => [xv, yv[k] * Y_UNIT]),
            showSymbol: false,
            symbol: 'none',
            smooth: 0.35,
            silent: true,
            clip: true,
            lineStyle: { color: TAU_COLORS[t], width: ls.width, type: ls.type, opacity: ls.opacity, cap: 'butt' },
          });
        });
      }

      // annotation: log(v_E / b) = value
      graphic.push(txt(L + 16, T + 17.5, 'log', { fontSize: 14, fontFamily: SERIF }));
      graphic.push(txt(L + 34, T + 12.5, 'v', { fontSize: 11, fontFamily: SERIF, fontStyle: 'italic' }));
      graphic.push(txt(L + 39.3, T + 14.5, 'E', { fontSize: 6, fontFamily: SERIF }));
      graphic.push(seg(L + 32.5, T + 17.5, L + 43, T + 17.5, '#000', 0.7));
      graphic.push(txt(L + 37.7, T + 23.5, 'b', { fontSize: 11, fontFamily: SERIF, fontStyle: 'italic', align: 'center' }));
      graphic.push(txt(L + 49, T + 17.5, '= ' + LOG_VE_VALUES[c], { fontSize: 14, fontFamily: SERIF }));
      graphic.push(txt(L + 25, T + 55, GEOMETRY_LABELS[r], { fontSize: 13 }));

      if (c === 0) {
        for (let t = 0; t < 3; t++) {
          const y = T + 18 + 20 * t;
          graphic.push(seg(L + 138, y, L + 155, y, TAU_COLORS[t], 1.5));
          graphic.push(txt(L + 165, y, '{i|\u03c4}{s|\u2080}{n| = ' + TAU_LABELS[t] + '}', {
            fontSize: 14, fontFamily: SERIF,
            rich: {
              i: { fontSize: 14, fontFamily: SERIF, fontStyle: 'italic', fill: '#000' },
              s: { fontSize: 14, fontFamily: SERIF, fill: '#000' },
              n: { fontSize: 14, fontFamily: SERIF, fill: '#000' },
            },
          }));
        }
      }
      if (c === 1) {
        for (let s = 0; s < 3; s++) {
          const y = T + 17.7 + 18 * s;
          const ls = LINE_STYLES[s];
          graphic.push(seg(L + 142, y, L + 162, y, '#000', s === 0 ? 1.1 : ls.width, s === 0 ? undefined : ls.type));
          graphic.push(txt(L + 172, y, STYLE_LABELS[s], { fontSize: 12.5 }));
        }
      }

      // x axis name
      graphic.push(txt(L + GRID_W / 2, T + 224, 'x', { fontSize: 25, fontFamily: SERIF, fontStyle: 'italic', align: 'center' }));
    }
  }

  // y axis titles
  const richY = {
    n: { fontSize: 22, fontFamily: SERIF, fill: '#000' },
    i: { fontSize: 22, fontFamily: SERIF, fontStyle: 'italic', fill: '#000' },
  };
  const yTitles = [
    '{n|2 \u00d7 }{i|J}{n|(}{i|x}{n|)}',
    '{n|2}{i|\u03c0r}{n|\u2080 \u00d7 }{i|J}{n|(}{i|x}{n|)}',
    '{n|4}{i|\u03c0r}{n|\u2080\u00b2 \u00d7 }{i|J}{n|(}{i|x}{n|)}',
  ];
  yTitles.forEach((t, r) => {
    graphic.push(txt(45, GRID_TOP + ROW_STEP * r + 95, t, { fontSize: 22, fontFamily: SERIF, align: 'center', rotation: Math.PI / 2, rich: richY }));
  });

  // running header
  graphic.push(txt(8, 12, '10', { fontSize: 20, fontFamily: SERIF }));
  graphic.push(txt(63, 12, 'Pengfei Li & Zheng Zheng', { fontSize: 20, fontFamily: SERIF, fontStyle: 'italic' }));

  return {
    animation: false,
    backgroundColor: '#fff',
    grid,
    xAxis,
    yAxis,
    series,
    graphic: { elements: graphic },
  };
}

export default function App() {
  const ref = useRef<HTMLDivElement>(null);
  useEffect(() => {
    if (!ref.current) return;
    const chart = echarts.init(ref.current, undefined, { renderer: 'svg' });
    chart.setOption(buildOption() as any);
    return () => chart.dispose();
  }, []);
  return <div ref={ref} style={{ position: 'absolute', left: 0, top: 0, width: 1004, height: 798, background: '#fff' }} />;
}
